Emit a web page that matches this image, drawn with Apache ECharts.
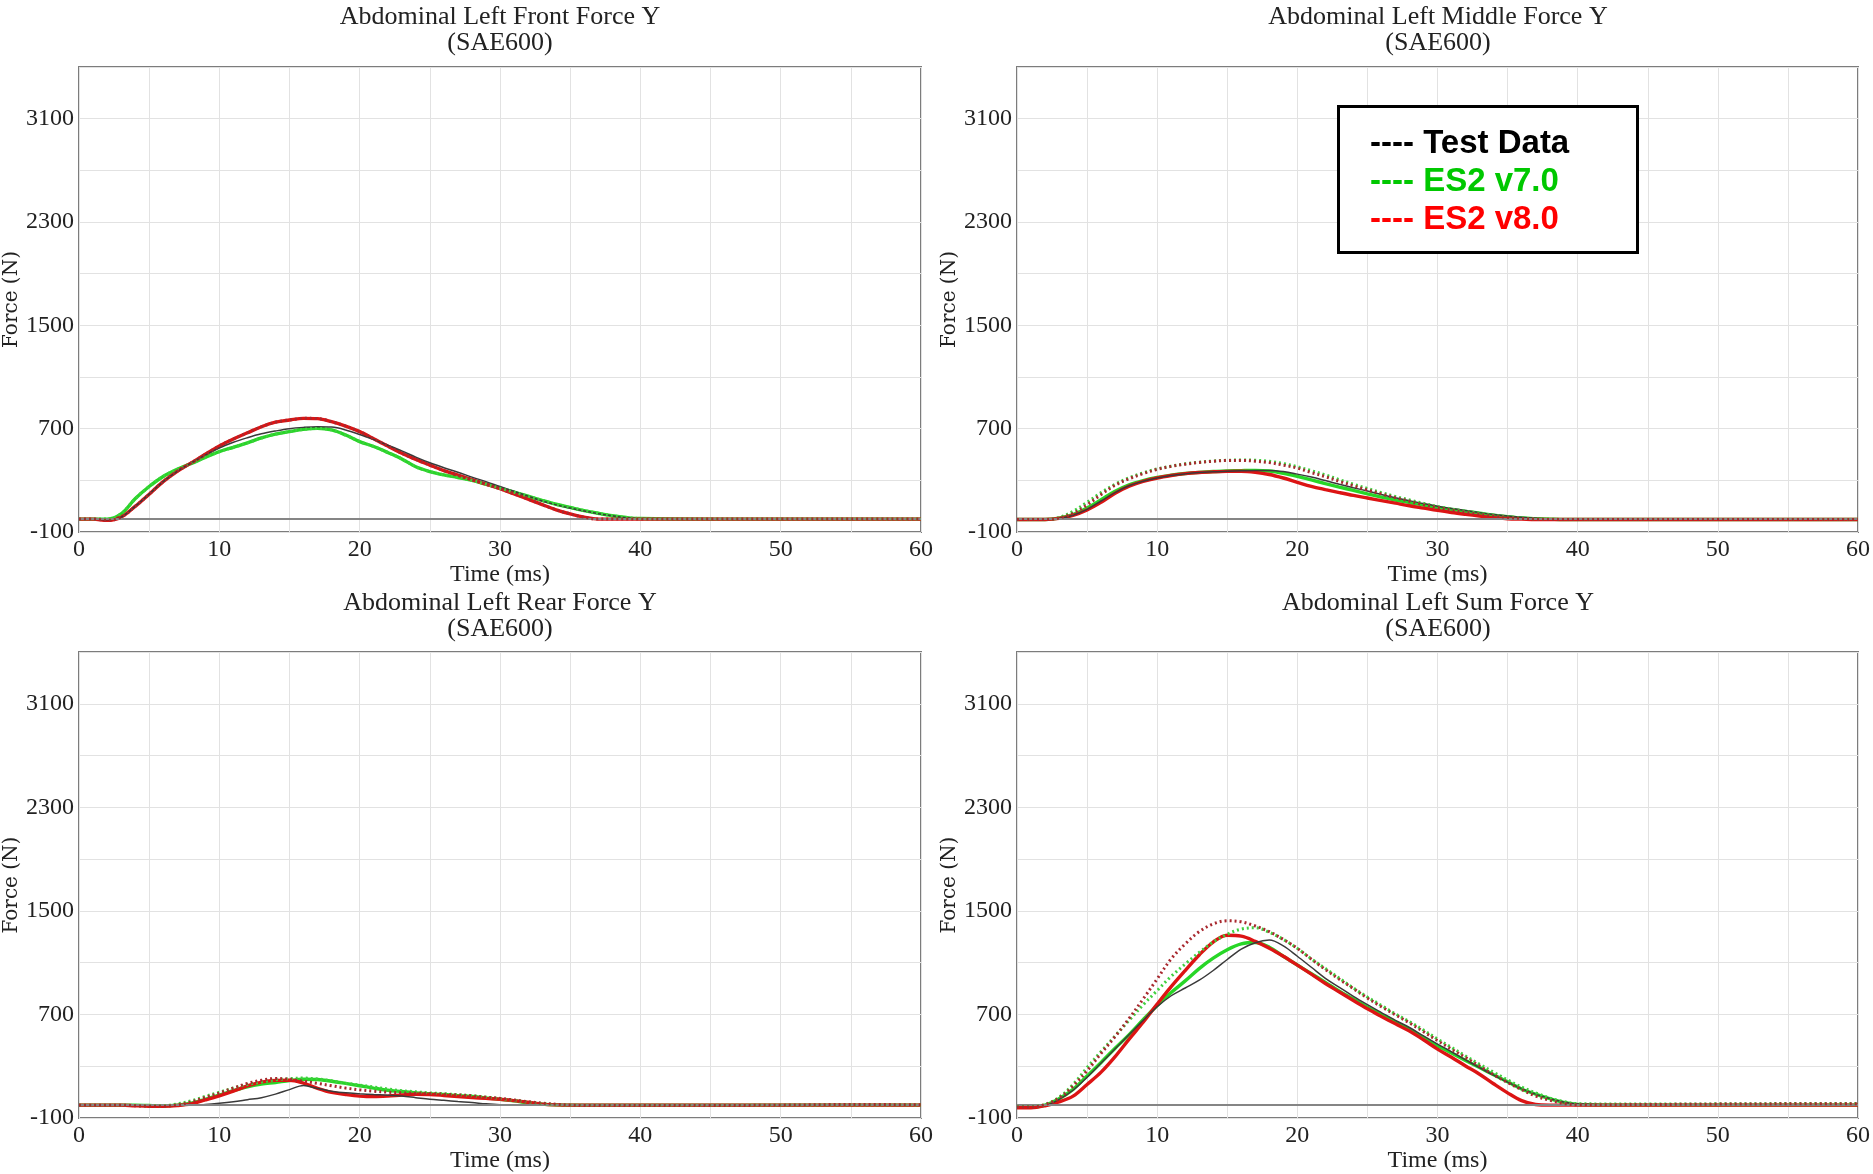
<!DOCTYPE html>
<html>
<head>
<meta charset="utf-8">
<script src="https://cdn.jsdelivr.net/npm/echarts@6/dist/echarts.min.js"></script>
<style>
html,body{margin:0;padding:0;background:#fff;}
#chart{width:1873px;height:1174px;}
</style>
</head>
<body>
<div id="chart"></div>
<script>
// ---- shared time base (ms) ----
const timeMs = [0,1,2,3,4,5,6,7,8,9,10,11,12,13,14,15,16,17,18,19,20,21,22,23,24,25,26,27,28,29,30,31,32,33,34,35,36,37,38,39,40,45,50,55,60];

// ---- panel titles ----
const panelTitles = [
  'Abdominal Left Front Force Y',
  'Abdominal Left Middle Force Y',
  'Abdominal Left Rear Force Y',
  'Abdominal Left Sum Force Y'
];
const filterName = '(SAE600)';
const legendNames = ['Test Data', 'ES2 v7.0', 'ES2 v8.0'];
const yLabelValues = [-100, 700, 1500, 2300, 3100];

// ---- Panel 1: Front ----
const p1Test = [0,0,-5,15,98,193,290,370,435,495,550,595,630,660,682,700,710,715,712,690,655,615,572,528,480,436,398,363,325,290,252,215,178,140,110,85,62,42,25,10,2,0,0,0,0];
const p1V7   = [0,0,0,40,157,252,330,385,430,478,522,556,590,628,658,677,695,702,690,651,600,562,516,466,405,368,342,322,300,270,239,208,177,145,115,90,66,45,26,12,4,0,0,0,0];
const p1V8   = [0,0,-10,15,98,193,290,370,435,502,566,620,668,715,750,767,780,778,754,720,677,622,565,510,462,418,375,340,305,270,235,195,155,112,72,40,15,0,0,0,0,0,0,0,0];
const p1V7dot = p1V7;
const p1V8dot = p1V8;

// ---- Panel 2: Middle ----
const p2Test = [0,0,0,5,30,75,140,205,258,293,318,337,350,360,366,370,374,377,377,368,348,325,298,270,243,217,190,165,142,120,100,82,66,50,36,24,14,7,2,0,0,0,0,0,0];
const p2V7   = [-3,-3,-3,8,35,85,150,215,265,298,322,340,353,362,368,372,375,377,372,355,331,303,275,248,222,195,170,148,128,108,90,75,60,45,30,18,8,3,0,-3,-3,-3,-3,-3,-3];
const p2V8   = [-3,-3,-3,5,28,70,130,200,255,292,318,337,352,361,366,369,370,362,345,318,285,253,228,205,183,163,143,123,103,85,67,51,37,24,11,3,0,-3,-3,-3,-3,-3,-3,-3,-3];
const p2V7dot = [-3,-3,-3,12,60,130,205,270,320,358,388,410,428,440,450,455,458,456,447,430,405,375,342,305,270,237,205,175,148,122,98,78,60,45,30,18,8,2,0,-3,-3,-3,-3,-3,-3];
const p2V8dot = [-3,-3,-3,8,45,110,190,262,312,352,385,408,425,438,448,454,454,448,437,418,395,360,328,292,258,225,195,165,138,112,90,70,53,38,24,13,5,0,-3,-3,-3,-3,-3,-3,-3];

// ---- Panel 3: Rear ----
const p3Test = [0,0,0,0,0,0,0,0,0,5,14,26,42,58,85,120,152,128,108,95,88,82,77,70,58,46,37,28,20,10,3,0,0,0,0,0,0,0,0,0,0,0,0,0,0];
const p3V7   = [0,0,0,0,0,-3,-5,0,15,45,78,112,142,162,175,190,200,198,185,168,150,132,115,105,95,88,82,74,67,56,45,33,18,8,2,0,0,0,0,0,0,0,0,0,0];
const p3V8   = [0,0,0,0,-5,-8,-8,-3,10,40,72,108,148,178,191,192,170,130,98,82,70,66,70,78,84,82,75,67,59,52,46,35,22,8,2,0,0,0,0,0,0,0,0,0,0];
const p3V7dot = [0,0,0,0,-3,-5,-5,10,33,68,100,132,160,178,195,205,209,202,188,170,155,140,125,112,103,95,88,80,72,62,50,38,24,12,4,0,-3,-3,-3,-3,-3,-3,0,3,2];
const p3V8dot = [0,0,0,0,-5,-8,-8,2,25,60,93,132,168,192,206,200,185,168,150,132,118,108,100,95,92,90,85,79,72,62,52,40,26,16,7,0,-3,-3,-3,-3,-3,-3,0,5,3];

// ---- Panel 4: Sum ----
const p4Test = [0,0,0,45,115,215,325,435,545,655,760,845,905,965,1040,1125,1205,1255,1275,1230,1150,1065,980,910,840,776,715,655,600,535,472,412,350,290,232,178,128,85,52,25,8,0,0,0,0];
const p4V7   = [-15,-15,0,50,122,225,330,440,545,660,770,870,960,1055,1135,1200,1245,1256,1220,1150,1082,1015,948,880,820,757,700,642,585,522,459,402,345,290,235,180,125,85,50,22,5,0,0,0,0];
const p4V8   = [-20,-20,-5,25,70,160,255,375,510,640,780,915,1040,1160,1260,1312,1305,1265,1212,1150,1082,1012,940,874,808,744,685,628,572,505,433,370,303,239,165,95,35,5,0,0,0,0,0,0,0];
const p4V7dot = [-10,-10,5,60,161,290,415,535,655,775,885,995,1090,1180,1260,1320,1360,1370,1335,1280,1211,1130,1055,980,905,835,770,705,645,580,511,446,380,316,255,195,140,95,55,28,12,8,10,12,12];
const p4V8dot = [-15,-15,5,55,148,265,400,530,670,820,975,1130,1245,1340,1400,1424,1416,1384,1340,1280,1211,1128,1048,972,900,827,760,697,635,568,498,432,368,303,235,175,120,70,38,13,3,5,8,10,10];

const panels = [
  {test:p1Test, v7:p1V7, v8:p1V8, v7dot:p1V7dot, v8dot:p1V8dot},
  {test:p2Test, v7:p2V7, v8:p2V8, v7dot:p2V7dot, v8dot:p2V8dot},
  {test:p3Test, v7:p3V7, v8:p3V8, v7dot:p3V7dot, v8dot:p3V8dot},
  {test:p4Test, v7:p4V7, v8:p4V8, v7dot:p4V7dot, v8dot:p4V8dot}
];

// ---- styling / layout ----
const SERIF = '"Liberation Serif", "DejaVu Serif", serif';
const gridBoxes = [
  {left:79,  top:67,  width:842, height:465},
  {left:1017,top:67,  width:842, height:465},
  {left:79,  top:652, width:842, height:467},
  {left:1017,top:652, width:842, height:467}
];
const colTest = '#3a3a3a', colV7 = '#27d627', colV8 = '#dc1414', colV7dot = '#3fcf3f', colV8dot = '#a8282e';

function pairs(arr){ return timeMs.map((t,i)=>[t, arr[i]]); }

const grids = [], xAxes = [], yAxes = [], series = [], titles = [];
gridBoxes.forEach((g, i) => {
  grids.push({left:g.left, top:g.top, width:g.width, height:g.height, show:true,
    borderColor:'#7c7c7c', borderWidth:2, backgroundColor:'#fff', containLabel:false});
  xAxes.push({type:'value', gridIndex:i, min:0, max:60, interval:10,
    name:'Time (ms)', nameLocation:'middle', nameGap:27,
    nameTextStyle:{fontFamily:SERIF, fontSize:24, color:'#222'},
    axisLine:{show:false}, axisTick:{show:false},
    axisLabel:{fontFamily:SERIF, fontSize:24, color:'#222', margin:6, showMinLabel:true, showMaxLabel:true},
    splitLine:{show:true, lineStyle:{color:'#e2e2e2', width:1}},
    minorTick:{show:false, splitNumber:2},
    minorSplitLine:{show:true, lineStyle:{color:'#e2e2e2', width:1}}
  });
  yAxes.push({type:'value', gridIndex:i, min:-100, max:3500, interval:400,
    name:'Force (N)', nameLocation:'middle', nameGap:57, nameRotate:90,
    nameTextStyle:{fontFamily:'"DejaVu Serif", serif', fontSize:20, color:'#222'},
    axisLine:{show:false}, axisTick:{show:false},
    axisLabel:{fontFamily:SERIF, fontSize:24, color:'#222', margin:5, showMinLabel:true,
      formatter: v => (yLabelValues.indexOf(v) >= 0 ? String(v) : '')},
    splitLine:{show:true, lineStyle:{color:'#e2e2e2', width:1}}
  });
  const cx = g.left + g.width/2;
  titles.push({text: panelTitles[i] + '\n' + filterName, left: cx, textAlign:'center', padding:0,
    top: i < 2 ? 4.5 : 590.5,
    textStyle:{fontFamily:SERIF, fontSize:26, fontWeight:'normal', color:'#222', lineHeight:26}});

  const p = panels[i];
  const base = {type:'line', xAxisIndex:i, yAxisIndex:i, showSymbol:false, symbol:'none', smooth:0.35, silent:true, animation:false};
  series.push(Object.assign({}, base, {name:legendNames[1], data:pairs(p.v7), lineStyle:{color:colV7, width:3.4}, z:2}));
  series.push(Object.assign({}, base, {name:legendNames[2], data:pairs(p.v8), lineStyle:{color:colV8, width:3.4}, z:3}));
  series.push(Object.assign({}, base, {name:legendNames[0], data:pairs(p.test), lineStyle:{color:colTest, width:1.5}, z:4,
    markLine:{silent:true, symbol:'none', label:{show:false}, animation:false,
      lineStyle:{color:'#858585', width:2, type:'solid'}, data:[{yAxis:0}]}}));
  series.push(Object.assign({}, base, {name:legendNames[1], data:pairs(p.v7dot), lineStyle:{color:colV7dot, width:3, type:[2,3]}, z:5}));
  series.push(Object.assign({}, base, {name:legendNames[2], data:pairs(p.v8dot), lineStyle:{color:colV8dot, width:3, type:[2,3]}, z:6}));
});

const legendColors = ['#000000', '#00c800', '#ff0000'];
const legendGraphic = {type:'group', left:1337, top:105, z:100, children:[
  {type:'rect', z:100, shape:{x:1.5, y:1.5, width:299, height:146}, style:{fill:'#fff', stroke:'#000', lineWidth:3}},
].concat(legendNames.map((n, k) => ({type:'text', z:101, x:33, y:39 + k*38,
  style:{text:'---- ' + n, fill:legendColors[k], font:'bold 33px "Liberation Sans", Arial, sans-serif', textVerticalAlign:'middle'}})))};

const chart = echarts.init(document.getElementById('chart'), null, {renderer:'canvas'});
chart.setOption({
  animation:false,
  backgroundColor:'#fff',
  title: titles,
  grid: grids,
  xAxis: xAxes,
  yAxis: yAxes,
  series: series,
  graphic: [legendGraphic]
});
</script>
</body>
</html>
